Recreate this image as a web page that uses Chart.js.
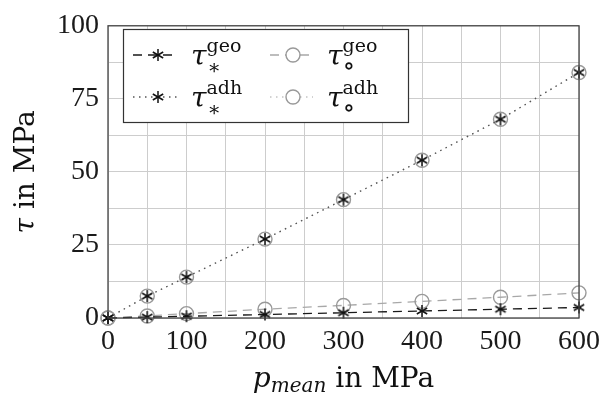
<!DOCTYPE html>
<html>
<head>
<meta charset="utf-8">
<script src="https://cdn.jsdelivr.net/npm/chart.js@4.4.0/dist/chart.umd.min.js"></script>
<style>
html, body { margin: 0; padding: 0; background: #fff; }
</style>
</head>
<body>
<canvas id="c" width="611" height="398"></canvas>
<script>
// values
const pMean = [0, 50, 100, 200, 300, 400, 500, 600];
const tauStarGeo = [0, 0.3, 0.6, 1.2, 1.8, 2.4, 3.0, 3.6];
const tauCircGeo = [0, 0.7, 1.5, 3.0, 4.3, 5.7, 7.1, 8.6];
const tauStarAdh = [0, 7.5, 14, 27, 40.5, 54, 68, 84];
const tauCircAdh = [0, 7.5, 14, 27, 40.5, 54, 68, 84];
const xTickLabels = [0, 100, 200, 300, 400, 500, 600];
const yTickLabels = [0, 25, 50, 75, 100];

const DIGITS = '"Liberation Serif", serif';
const TEXT = '"DejaVu Serif", serif';

function pts(ys) {
  return pMean.map((x, i) => ({ x: x, y: ys[i] }));
}

// six armed asterisk marker
function makeStar(r, color) {
  const c = document.createElement('canvas');
  c.width = c.height = 2 * r + 4;
  const g = c.getContext('2d');
  g.strokeStyle = color;
  g.lineWidth = 1.5;
  g.translate(c.width / 2, c.height / 2);
  [90, 30, 150].forEach(a => {
    const t = a * Math.PI / 180;
    g.beginPath();
    g.moveTo(-r * Math.cos(t), -r * Math.sin(t));
    g.lineTo(r * Math.cos(t), r * Math.sin(t));
    g.stroke();
  });
  return c;
}
const starImg = makeStar(6, '#111');

const series = [
  { key: 'starGeo', data: tauStarGeo, color: '#1a1a1a', dash: [9, 6], marker: 'star' },
  { key: 'starAdh', data: tauStarAdh, color: '#555', dash: [1.5, 4.5], marker: 'star' },
  { key: 'circGeo', data: tauCircGeo, color: '#a8a8a8', dash: [9, 6], marker: 'circ' },
  { key: 'circAdh', data: tauCircAdh, color: '#c4c4c4', dash: [1.5, 4.5], marker: 'circ' }
];

const datasets = series.map((s, i) => ({
  label: s.key,
  data: pts(s.data),
  showLine: true,
  borderColor: s.color,
  borderWidth: 1.3,
  borderDash: s.dash,
  pointStyle: s.marker === 'star' ? starImg : 'circle',
  pointRadius: 7,
  pointHoverRadius: 7,
  pointBorderColor: '#999',
  pointBorderWidth: 1.4,
  pointBackgroundColor: 'rgba(0,0,0,0)',
  clip: false,
  order: i
}));

// draws a sequence of text pieces with own fonts / vertical shifts
function drawRuns(ctx, x, y, parts, align) {
  let w = 0;
  parts.forEach(p => { ctx.font = p.f; p.w = ctx.measureText(p.t).width; if (!p.stack) w += p.w; });
  let cx = align === 'center' ? x - w / 2 : x;
  let last = 0;
  parts.forEach(p => {
    ctx.font = p.f;
    const px = p.stack ? cx - last + (p.dx || 0) : cx;
    ctx.fillText(p.t, px, y + (p.dy || 0));
    if (!p.stack) { cx += p.w; last = p.w; }
  });
}

const extras = {
  id: 'extras',
  afterDraw(chart) {
    const ctx = chart.ctx;
    const a = chart.chartArea;
    ctx.save();
    // frame
    ctx.strokeStyle = '#444';
    ctx.lineWidth = 1.3;
    ctx.setLineDash([]);
    ctx.strokeRect(a.left, a.top, a.right - a.left, a.bottom - a.top);

    // axis titles
    ctx.fillStyle = '#111';
    ctx.textBaseline = 'alphabetic';
    ctx.textAlign = 'left';
    const big = '28px ' + TEXT, bigI = 'italic 28px ' + TEXT;
    const small = '19px ' + TEXT, smallI = 'italic 20px ' + TEXT;
    drawRuns(ctx, (a.left + a.right) / 2, 387, [
      { t: 'p', f: bigI }, { t: 'mean', f: smallI, dy: 5 }, { t: ' in MPa', f: big }
    ], 'center');
    ctx.save();
    ctx.translate(34, (a.top + a.bottom) / 2);
    ctx.rotate(-Math.PI / 2);
    drawRuns(ctx, 0, 0, [{ t: 'τ', f: bigI }, { t: ' in MPa', f: big }], 'center');
    ctx.restore();

    // legend
    const bx = 123, by = 29, bw = 285, bh = 93;
    ctx.fillStyle = '#fff';
    ctx.fillRect(bx, by, bw, bh);
    ctx.strokeStyle = '#333';
    ctx.lineWidth = 1.2;
    ctx.strokeRect(bx + 0.5, by + 0.5, bw, bh);
    const cols = [{ l0: 133, l1: 178, m: 158, tx: 191 }, { l0: 270, l1: 313, m: 293, tx: 327 }];
    const rows = [{ y: 55, sup: 'geo' }, { y: 97, sup: 'adh' }];
    const entries = [
      { s: series[0], col: 0, row: 0 }, { s: series[2], col: 1, row: 0 },
      { s: series[1], col: 0, row: 1 }, { s: series[3], col: 1, row: 1 }
    ];
    entries.forEach(e => {
      const c = cols[e.col], r = rows[e.row];
      ctx.strokeStyle = e.s.color;
      ctx.lineWidth = 1.3;
      ctx.setLineDash(e.s.dash);
      ctx.beginPath();
      ctx.moveTo(c.l0, r.y);
      ctx.lineTo(c.l1, r.y);
      ctx.stroke();
      ctx.setLineDash([]);
      if (e.s.marker === 'star') {
        ctx.drawImage(starImg, c.m - starImg.width / 2, r.y - starImg.height / 2);
      } else {
        ctx.fillStyle = '#fff';
        ctx.beginPath();
        ctx.arc(c.m, r.y, 7, 0, Math.PI * 2);
        ctx.fill();
        ctx.strokeStyle = '#999';
        ctx.lineWidth = 1.4;
        ctx.stroke();
      }
      ctx.fillStyle = '#111';
      const base = r.y + 10;
      const sub = e.s.marker === 'star'
        ? { t: '∗', f: '20px ' + TEXT, dy: 9, dx: 1, stack: true }
        : { t: '∘', f: '26px ' + TEXT, dy: 9, dx: 0, stack: true };
      drawRuns(ctx, c.tx, base, [
        { t: 'τ', f: bigI },
        { t: r.sup, f: small, dy: -13 },
        sub
      ], 'left');
    });
    ctx.restore();
  }
};

new Chart(document.getElementById('c'), {
  type: 'scatter',
  data: { datasets: datasets },
  options: {
    responsive: false,
    animation: false,
    events: [],
    layout: { padding: { left: 0, top: 19, right: 32, bottom: 0 } },
    plugins: { legend: { display: false }, tooltip: { enabled: false } },
    scales: {
      x: {
        type: 'linear',
        min: 0, max: 600,
        afterFit(s) { s.height = 80; },
        grid: { color: '#cdcdcd', lineWidth: 1, drawTicks: false },
        border: { display: false },
        ticks: {
          stepSize: 50, autoSkip: false, maxRotation: 0, padding: 7,
          color: '#1a1a1a', font: { family: DIGITS, size: 28 },
          callback: v => xTickLabels.includes(v) ? String(v) : ''
        }
      },
      y: {
        type: 'linear',
        min: 0, max: 100,
        afterFit(s) { s.width = 108; },
        grid: { color: '#cdcdcd', lineWidth: 1, drawTicks: false },
        border: { display: false },
        ticks: {
          stepSize: 12.5, autoSkip: false, padding: 9,
          color: '#1a1a1a', font: { family: DIGITS, size: 28 },
          callback: v => yTickLabels.includes(v) ? String(v) : ''
        }
      }
    }
  },
  plugins: [extras]
});
</script>
</body>
</html>
